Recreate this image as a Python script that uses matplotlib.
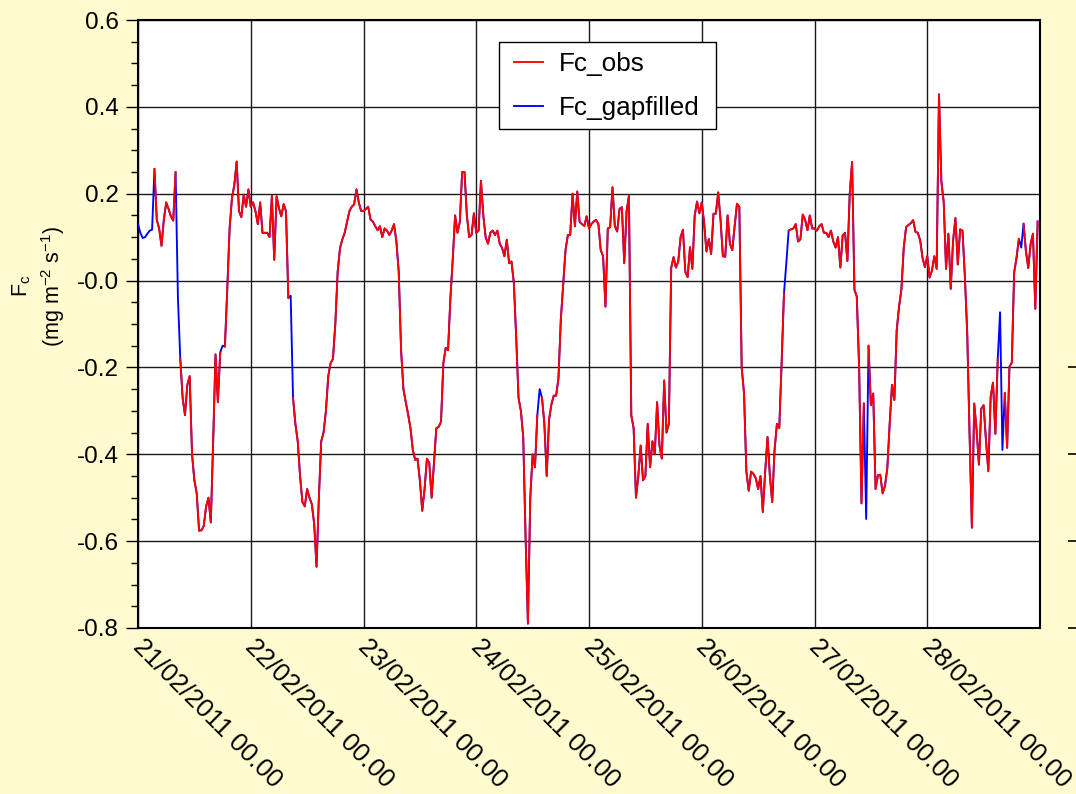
import numpy as np
import pandas as pd
import matplotlib
matplotlib.use("Agg")
import matplotlib.pyplot as plt
import matplotlib.transforms as mtransforms
from matplotlib.patches import Rectangle

plt.rcParams['font.family'] = ['Liberation Sans', 'DejaVu Sans']
plt.rcParams['mathtext.default'] = 'regular'
plt.rcParams['axes.unicode_minus'] = False

# half-hourly gap-filled Fc (mg m-2 s-1), one list per day
fc_21feb = [0.13, 0.11, 0.098, 0.10, 0.108, 0.115, 0.117, 0.257, 0.14, 0.12, 0.08, 0.14,
            0.18, 0.165, 0.148, 0.138, 0.25, -0.04, -0.18, -0.27, -0.31, -0.24, -0.22, -0.40,
            -0.46, -0.49, -0.576, -0.575, -0.565, -0.52, -0.50, -0.557, -0.37, -0.17, -0.28, -0.166,
            -0.15, -0.152, -0.02, 0.12, 0.19, 0.22, 0.274, 0.16, 0.146, 0.198, 0.17, 0.21]
fc_22feb = [0.17, 0.18, 0.16, 0.13, 0.18, 0.11, 0.11, 0.11, 0.10, 0.195, 0.048, 0.194,
            0.167, 0.148, 0.176, 0.16, -0.04, -0.035, -0.27, -0.33, -0.37, -0.45, -0.51, -0.52,
            -0.48, -0.50, -0.515, -0.56, -0.659, -0.50, -0.37, -0.35, -0.30, -0.22, -0.19, -0.18,
            -0.10, 0.02, 0.075, 0.095, 0.11, 0.135, 0.16, 0.17, 0.175, 0.21, 0.18, 0.16]
fc_23feb = [0.16, 0.165, 0.17, 0.14, 0.136, 0.125, 0.116, 0.125, 0.10, 0.12, 0.115, 0.105,
            0.115, 0.13, 0.09, 0.02, -0.16, -0.25, -0.28, -0.308, -0.34, -0.39, -0.413, -0.41,
            -0.46, -0.53, -0.48, -0.41, -0.42, -0.5, -0.42, -0.34, -0.337, -0.325, -0.19, -0.155,
            -0.16, -0.04, 0.05, 0.15, 0.11, 0.135, 0.25, 0.25, 0.15, 0.10, 0.105, 0.155]
fc_24feb = [0.11, 0.115, 0.23, 0.15, 0.10, 0.085, 0.11, 0.115, 0.105, 0.115, 0.085, 0.075,
            0.056, 0.094, 0.04, 0.044, -0.005, -0.13, -0.27, -0.30, -0.36, -0.59, -0.79, -0.5,
            -0.40, -0.43, -0.31, -0.25, -0.27, -0.33, -0.45, -0.32, -0.285, -0.265, -0.265, -0.225,
            -0.09, -0.01, 0.07, 0.105, 0.105, 0.2, 0.125, 0.205, 0.135, 0.13, 0.126, 0.148]
fc_25feb = [0.12, 0.13, 0.136, 0.14, 0.13, 0.07, 0.056, -0.06, 0.12, 0.123, 0.215, 0.125,
            0.113, 0.165, 0.169, 0.04, 0.16, 0.195, -0.31, -0.34, -0.5, -0.45, -0.38, -0.46,
            -0.45, -0.33, -0.43, -0.37, -0.40, -0.28, -0.38, -0.41, -0.23, -0.35, -0.33, 0.03,
            0.054, 0.03, 0.044, 0.10, 0.117, 0.02, 0.008, 0.077, 0.027, 0.15, 0.182, 0.155]
fc_26feb = [0.18, 0.133, 0.067, 0.096, 0.061, 0.154, 0.154, 0.203, 0.14, 0.056, 0.055, 0.15,
            0.085, 0.07, 0.125, 0.177, 0.17, -0.2, -0.26, -0.44, -0.484, -0.44, -0.445, -0.455,
            -0.48, -0.45, -0.533, -0.44, -0.36, -0.45, -0.51, -0.39, -0.33, -0.34, -0.19, -0.03,
            0.04, 0.115, 0.118, 0.12, 0.13, 0.09, 0.095, 0.152, 0.14, 0.116, 0.15, 0.12]
fc_27feb = [0.12, 0.115, 0.125, 0.13, 0.11, 0.11, 0.10, 0.115, 0.09, 0.076, 0.1, 0.03,
            0.104, 0.11, 0.045, 0.2, 0.273, -0.021, -0.037, -0.2, -0.513, -0.283, -0.549, -0.15,
            -0.287, -0.26, -0.48, -0.448, -0.447, -0.49, -0.473, -0.432, -0.33, -0.24, -0.275, -0.114,
            -0.06, -0.02, 0.076, 0.123, 0.128, 0.132, 0.139, 0.112, 0.11, 0.092, 0.052, 0.031]
fc_28feb = [0.056, 0.007, 0.023, 0.056, 0.027, 0.429, 0.229, 0.181, 0.027, 0.108, -0.019, 0.092,
            0.144, 0.037, 0.118, 0.115, 0.011, -0.118, -0.35, -0.569, -0.283, -0.344, -0.424, -0.295,
            -0.287, -0.368, -0.439, -0.267, -0.235, -0.353, -0.182, -0.073, -0.39, -0.259, -0.385, -0.198,
            -0.189, 0.019, 0.052, 0.096, 0.076, 0.131, 0.068, 0.029, 0.084, 0.108, -0.065, 0.136]

# half-hour slots (per day) with no observation, i.e. gap-filled only
gaps_per_day = [[0, 1, 2, 3, 4, 5, 6, 17, 36], [17], [], [27], [], [36], [22], [31, 32, 40]]

day_labels = ["21/02/2011 00.00", "22/02/2011 00.00", "23/02/2011 00.00", "24/02/2011 00.00",
              "25/02/2011 00.00", "26/02/2011 00.00", "27/02/2011 00.00", "28/02/2011 00.00"]

days = [fc_21feb, fc_22feb, fc_23feb, fc_24feb, fc_25feb, fc_26feb, fc_27feb, fc_28feb]
fc_gapfilled = np.concatenate(days)
fc_obs = fc_gapfilled.copy()
for d, g in enumerate(gaps_per_day):
    for i in g:
        fc_obs[d * 48 + i] = np.nan

times = pd.date_range("2011-02-21 00:00", periods=len(fc_gapfilled), freq="30min")

fig = plt.figure(figsize=(10.76, 7.94), dpi=100)
fig.patch.set_facecolor("#FFFBCF")
ax = fig.add_axes([138 / 1076, 1 - 628 / 794, 902 / 1076, 608 / 794])
ax.set_facecolor("white")

ax.plot(times, fc_gapfilled, color="#0000FF", lw=1.35, label="Fc_gapfilled", zorder=3)
ax.plot(times, fc_obs, color="#FF0000", lw=1.35, label="Fc_obs", zorder=4)

ax.set_ylim(-0.8, 0.6)
ax.set_xlim(pd.Timestamp("2011-02-21"), pd.Timestamp("2011-03-01"))
ax.set_yticks(np.arange(-0.8, 0.61, 0.2))
ax.set_yticklabels(["%.1f" % v for v in np.arange(-0.8, 0.61, 0.2)])
ax.set_yticks(np.arange(-0.8, 0.61, 0.05), minor=True)

# date labels drawn as text, rotated down-right from each tick
tick_days = pd.date_range("2011-02-21", periods=8, freq="D")
ax.set_xticks(tick_days)
ax.set_xticklabels([])
lbl_tr = ax.get_xaxis_transform() + mtransforms.ScaledTranslation(7 / 100, -7 / 100, fig.dpi_scale_trans)
for t, s in zip(tick_days, day_labels):
    ax.text(t, 0, s, transform=lbl_tr, rotation=-45, ha="left", va="top",
            rotation_mode="anchor", fontsize=18.6, clip_on=False)

ax.tick_params(axis="y", which="major", length=9, width=1, labelsize=17.5, pad=5, direction="out")
ax.tick_params(axis="y", which="minor", length=5, width=1, direction="out")
ax.tick_params(axis="x", length=0)
ax.tick_params(axis="y", which="both", right=False)

ax.grid(True, which="major", color="#1a1a1a", lw=1.0)
ax.set_axisbelow(True)
for s in ax.spines.values():
    s.set_color("black")
    s.set_linewidth(1.5)

# stray tick marks on the right (second axis, labels cut off)
ax2 = ax.twinx()
ax2.set_ylim(-0.8, 0.6)
ax2.spines["right"].set_position(("outward", 28 * 72 / 100))
for s in ax2.spines.values():
    s.set_visible(False)
ax2.set_yticks([-0.8, -0.6, -0.4, -0.2])
ax2.set_yticklabels([])
ax2.tick_params(axis="y", length=8, width=1.2, direction="out", color="black")

leg = ax.legend(handles=ax.get_lines()[::-1], loc="upper left",
                bbox_to_anchor=(0.408, 0.960), fontsize=18.8, frameon=False,
                handlelength=1.11, handletextpad=0.61, labelspacing=0.75,
                borderpad=0.3, borderaxespad=0)
ax.add_patch(Rectangle((0.4002, 0.8207), 0.6408 - 0.4002, 0.9638 - 0.8207,
                       transform=ax.transAxes, facecolor="white", edgecolor="black",
                       lw=1.0, zorder=5))
leg.set_zorder(6)

fig.text(39 / 1076, 1 - 286 / 794, "F$_c$\n(mg m$^{-2}$ s$^{-1}$)", rotation=90,
         ha="center", va="center", fontsize=15.5, multialignment="center", linespacing=1.3)

fig.savefig("out.png", dpi=100, facecolor=fig.get_facecolor())
